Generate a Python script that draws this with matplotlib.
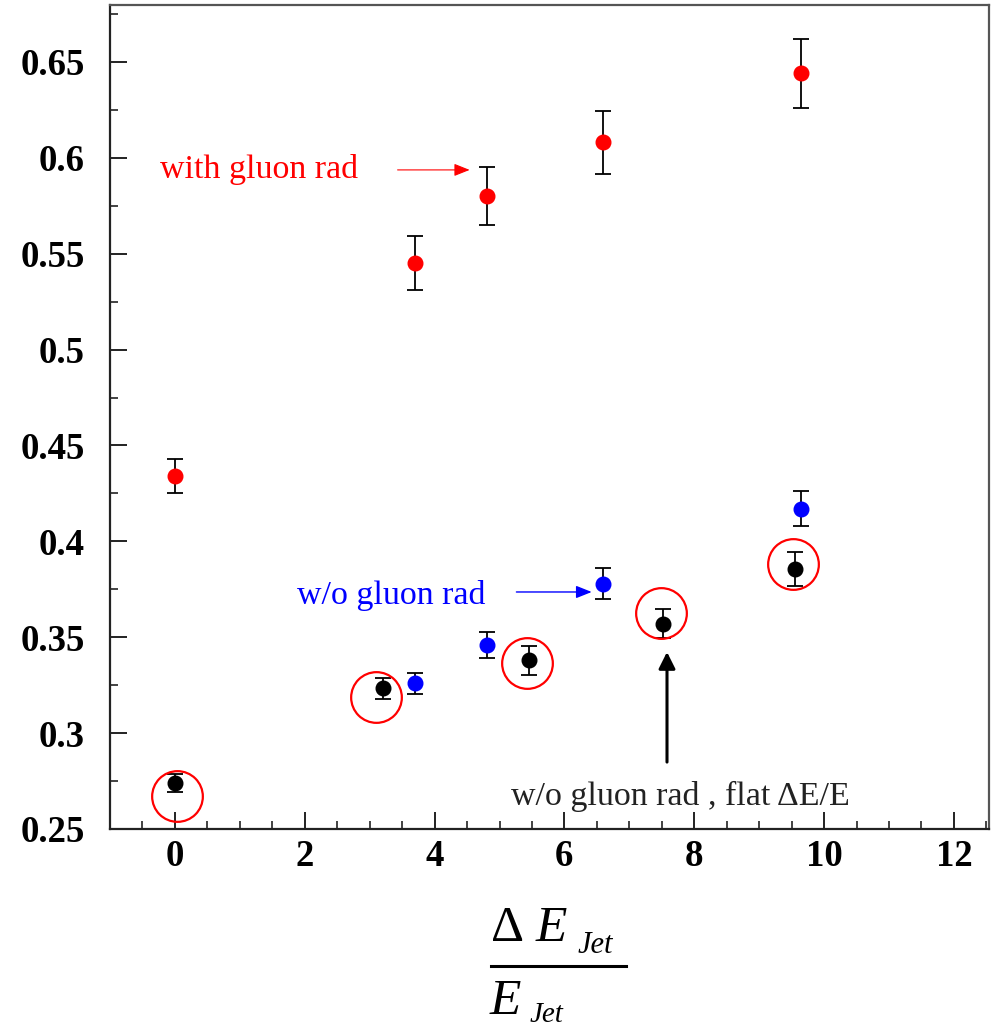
import matplotlib
matplotlib.use("Agg")
import matplotlib.pyplot as plt
from matplotlib.ticker import MultipleLocator

# ---- data ----
red_x = [0.0, 3.7, 4.8, 6.6, 9.65]
red_y = [0.434, 0.545, 0.580, 0.608, 0.644]
red_err = [0.009, 0.014, 0.015, 0.0165, 0.018]

blue_x = [3.7, 4.8, 6.6, 9.65]
blue_y = [0.326, 0.346, 0.378, 0.417]
blue_err = [0.0055, 0.0068, 0.008, 0.0092]

black_x = [0.0, 3.2, 5.45, 7.52, 9.55]
black_y = [0.274, 0.3235, 0.338, 0.357, 0.3855]
black_err = [0.0045, 0.0055, 0.0075, 0.0075, 0.009]

circle_x = [0.03, 3.1, 5.43, 7.48, 9.52]
circle_y = [0.267, 0.319, 0.3365, 0.3625, 0.388]

xticks = [0, 2, 4, 6, 8, 10, 12]
yticks = [0.25, 0.3, 0.35, 0.4, 0.45, 0.5, 0.55, 0.6, 0.65]
ytick_labels = ["0.25", "0.3", "0.35", "0.4", "0.45", "0.5", "0.55", "0.6", "0.65"]

W, H = 996, 1030
fig = plt.figure(figsize=(W / 100, H / 100), dpi=100)
ax = fig.add_axes([110 / W, 1 - 829 / H, (989 - 110) / W, (829 - 5) / H])

ax.set_xlim(-1.0, 12.54)
ax.set_ylim(0.25, 0.6797)

ekw = dict(fmt="o", ecolor="black", elinewidth=1.3, capsize=5.5, capthick=1.3,
           markersize=10.5)
ax.errorbar(red_x, red_y, yerr=red_err, color="#ff0000", mec="#ff0000", **ekw)
ax.errorbar(blue_x, blue_y, yerr=blue_err, color="#0000ff", mec="#0000ff", **ekw)
ax.errorbar(black_x, black_y, yerr=black_err, color="black", mec="black", **ekw)

ax.plot(circle_x, circle_y, linestyle="none", marker="o", markersize=36.5,
        markerfacecolor="none", markeredgecolor="#ff0000", markeredgewidth=1.6)

# ticks
ax.set_xticks(xticks)
ax.set_xticklabels([str(t) for t in xticks])
ax.set_yticks(yticks)
ax.set_yticklabels(ytick_labels)
ax.xaxis.set_minor_locator(MultipleLocator(0.5))
ax.yaxis.set_minor_locator(MultipleLocator(0.025))
ax.tick_params(axis="both", which="both", direction="in", top=False, right=False,
               color="#222222")
ax.tick_params(axis="both", which="major", length=12, width=1.4)
ax.tick_params(axis="both", which="minor", length=5.5, width=1.2)
ax.tick_params(axis="y", which="major", pad=18)
ax.tick_params(axis="x", which="major", pad=7)
for lab in ax.get_xticklabels() + ax.get_yticklabels():
    lab.set_fontfamily("Liberation Serif")
    lab.set_fontweight("bold")
    lab.set_fontsize(26.5)

for side in ["left", "bottom"]:
    ax.spines[side].set_linewidth(1.6)
    ax.spines[side].set_color("#222222")
for side in ["top", "right"]:
    ax.spines[side].set_linewidth(1.6)
    ax.spines[side].set_color("#555555")

# annotations
serif = "Liberation Serif"
ax.text(-0.23, 0.5895, "with gluon rad", color="#ff0000", fontsize=24.5,
        family=serif, va="baseline", ha="left")
ax.annotate("", xy=(4.54, 0.5937), xytext=(3.43, 0.5937),
            arrowprops=dict(arrowstyle="-|>,head_length=0.95,head_width=0.38",
                            color="#ff0000", lw=0.8, shrinkA=0, shrinkB=0,
                            mutation_scale=10))

ax.text(1.88, 0.3673, "w/o gluon rad", color="#0000ff", fontsize=24.5,
        family=serif, va="baseline", ha="left")
ax.annotate("", xy=(6.42, 0.3736), xytext=(5.26, 0.3736),
            arrowprops=dict(arrowstyle="-|>,head_length=0.95,head_width=0.38",
                            color="#0000ff", lw=1.0, shrinkA=0, shrinkB=0,
                            mutation_scale=10))

ax.text(5.17, 0.2625, "w/o gluon rad , flat \u0394E/E", color="#222222", fontsize=24.5,
        family=serif, va="baseline", ha="left")
ax.annotate("", xy=(7.58, 0.3423), xytext=(7.58, 0.2849),
            arrowprops=dict(arrowstyle="-|>,head_length=1.0,head_width=0.5",
                            color="black", lw=2.2, shrinkA=0, shrinkB=0,
                            mutation_scale=10))

# x-axis label as a fraction
def fx(px):
    return px / W

def fy(py):
    return 1 - py / H

fig.text(fx(491), fy(941), "\u0394", fontsize=37, family=serif, va="baseline", ha="left")
fig.text(fx(536), fy(941), "E", fontsize=37, family=serif, style="italic",
         va="baseline", ha="left")
fig.text(fx(578), fy(953), "Jet", fontsize=22, family=serif, style="italic",
         va="baseline", ha="left")
fig.add_artist(plt.Line2D([fx(491), fx(626)], [fy(966), fy(966)], color="black",
                          lw=2.2, transform=fig.transFigure))
fig.text(fx(490), fy(1014), "E", fontsize=37, family=serif, style="italic",
         va="baseline", ha="left")
fig.text(fx(530), fy(1022), "Jet", fontsize=21, family=serif, style="italic",
         va="baseline", ha="left")

fig.savefig("out.png", dpi=100)
